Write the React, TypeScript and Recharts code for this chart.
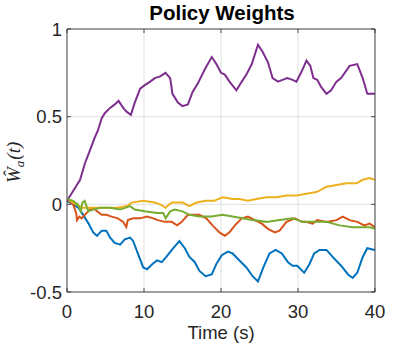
import React from 'react';
import { LineChart, Line, XAxis, YAxis, CartesianGrid } from 'recharts';

const xTicks = [0, 10, 20, 30, 40];
const yTicks = [-0.5, 0, 0.5, 1];

// [time (s), weight]
const weight1: [number, number][] = [
  [0, 0.02], [0.8, 0.0], [1.5, -0.02], [2.1, -0.06], [2.8, -0.11], [3.4, -0.16], [3.9, -0.18],
  [4.5, -0.15], [5.1, -0.15], [5.6, -0.19], [6.2, -0.22], [6.9, -0.23], [7.5, -0.2], [8.2, -0.19],
  [8.6, -0.21], [9.2, -0.28], [9.9, -0.36], [10.4, -0.37], [11.1, -0.34], [11.7, -0.32], [12.3, -0.33],
  [12.9, -0.3], [13.8, -0.25], [14.6, -0.21], [15.3, -0.25], [15.9, -0.3], [16.6, -0.33], [17.2, -0.38],
  [18.0, -0.41], [18.8, -0.4], [19.4, -0.34], [20.1, -0.29], [20.9, -0.27], [21.5, -0.28], [22.4, -0.32],
  [23.3, -0.36], [24.1, -0.41], [24.8, -0.44], [25.5, -0.36], [26.3, -0.28], [27.1, -0.26], [27.9, -0.28],
  [28.7, -0.33], [29.3, -0.35], [29.9, -0.35], [30.8, -0.39], [31.5, -0.34], [32.1, -0.28], [32.8, -0.26],
  [33.7, -0.26], [34.5, -0.3], [35.6, -0.35], [36.5, -0.4], [37.1, -0.42], [37.7, -0.39], [38.4, -0.3],
  [39.0, -0.25], [40, -0.26],
];

const weight2: [number, number][] = [
  [0, 0.03], [0.8, 0.0], [1.2, -0.05], [1.3, -0.09], [1.6, -0.07], [1.9, -0.08], [2.3, -0.06],
  [3.0, -0.03], [3.4, -0.02], [3.9, -0.04], [4.5, -0.06], [5.1, -0.06], [5.8, -0.07], [6.6, -0.08],
  [7.3, -0.1], [7.7, -0.13], [7.9, -0.09], [8.6, -0.08], [9.5, -0.08], [10.4, -0.07], [11.2, -0.08],
  [11.8, -0.09], [12.7, -0.1], [13.6, -0.1], [14.3, -0.12], [14.9, -0.1], [15.7, -0.06], [16.3, -0.06],
  [17.2, -0.06], [18.1, -0.08], [18.9, -0.12], [19.8, -0.16], [20.5, -0.18], [21.1, -0.16], [21.8, -0.12],
  [22.7, -0.08], [23.5, -0.07], [24.4, -0.09], [25.3, -0.11], [26.1, -0.14], [27.0, -0.16], [27.6, -0.15],
  [28.5, -0.1], [29.6, -0.08], [30.5, -0.1], [31.0, -0.1], [31.9, -0.11], [32.5, -0.09], [33.7, -0.1],
  [35.0, -0.09], [35.8, -0.07], [36.7, -0.09], [37.7, -0.1], [38.6, -0.12], [39.3, -0.11], [40, -0.13],
];

const weight3: [number, number][] = [
  [0, 0.03], [0.8, 0.01], [2.0, -0.02], [3.4, -0.02], [5.2, -0.02], [6.5, -0.02], [7.8, -0.01],
  [8.4, 0.01], [9.9, 0.02], [11.4, 0.01], [12.1, 0.0], [12.8, -0.02], [13.6, 0.01], [14.4, 0.01],
  [15.0, 0.01], [15.9, -0.01], [16.8, 0.01], [18.1, 0.02], [19.1, 0.02], [20.2, 0.04], [21.5, 0.03],
  [22.4, 0.03], [23.5, 0.02], [24.6, 0.03], [25.9, 0.04], [27.2, 0.04], [28.5, 0.05], [29.8, 0.05],
  [31.1, 0.06], [32.4, 0.07], [33.7, 0.1], [35.0, 0.11], [36.3, 0.12], [37.6, 0.12], [38.4, 0.14],
  [39.3, 0.15], [40, 0.14],
];

const weight4: [number, number][] = [
  [0, 0.02], [1.0, 0.09], [1.7, 0.14], [2.3, 0.23], [3.0, 0.31], [3.6, 0.38], [4.0, 0.42], [4.5, 0.49],
  [4.9, 0.52], [5.6, 0.55], [6.2, 0.57], [6.7, 0.59], [7.3, 0.55], [7.7, 0.53], [8.3, 0.51], [8.8, 0.58],
  [9.5, 0.66], [10.1, 0.68], [10.8, 0.7], [11.4, 0.72], [12.1, 0.73], [12.8, 0.75], [13.4, 0.72],
  [13.7, 0.63], [14.4, 0.58], [15.0, 0.56], [15.7, 0.57], [16.3, 0.64], [17.0, 0.69], [17.9, 0.77],
  [18.8, 0.84], [19.4, 0.8], [20.0, 0.75], [20.5, 0.74], [21.1, 0.7], [22.0, 0.65], [22.7, 0.7],
  [23.3, 0.74], [24.0, 0.8], [24.8, 0.91], [25.4, 0.87], [26.1, 0.81], [26.7, 0.72], [27.4, 0.7],
  [28.0, 0.71], [28.6, 0.72], [29.3, 0.71], [29.8, 0.7], [30.5, 0.76], [31.1, 0.82], [31.6, 0.79],
  [32.0, 0.72], [32.5, 0.71], [33.0, 0.67], [33.7, 0.63], [34.3, 0.65], [35.0, 0.7], [35.6, 0.72],
  [36.7, 0.79], [37.7, 0.8], [38.4, 0.72], [39.0, 0.63], [40, 0.63],
];

const weight5: [number, number][] = [
  [0, 0.03], [0.8, 0.02], [1.4, 0.0], [1.8, -0.04], [2.0, 0.01], [2.3, 0.02], [2.6, -0.02], [2.8, -0.04],
  [3.4, -0.03], [4.3, -0.02], [5.6, -0.02], [6.9, -0.03], [8.2, -0.01], [8.8, -0.03], [10.1, -0.04],
  [11.7, -0.05], [12.5, -0.05], [12.8, -0.08], [13.4, -0.04], [14.0, -0.03], [15.0, -0.04], [15.9, -0.06],
  [17.2, -0.07], [18.8, -0.07], [20.2, -0.06], [21.5, -0.07], [22.8, -0.08], [24.1, -0.09], [25.9, -0.1],
  [27.6, -0.09], [29.3, -0.08], [30.6, -0.1], [31.9, -0.1], [33.7, -0.1], [35.4, -0.12], [37.1, -0.13],
  [38.4, -0.13], [39.3, -0.13], [40, -0.14],
];

const toRows = (pts: [number, number][]) => pts.map(([t, v]) => ({ t, v }));

const series = [
  { name: 'w1', color: '#0072BD', pts: weight1 },
  { name: 'w2', color: '#D95319', pts: weight2 },
  { name: 'w3', color: '#EDB120', pts: weight3 },
  { name: 'w4', color: '#7E2F8E', pts: weight4 },
  { name: 'w5', color: '#77AC30', pts: weight5 },
];

const AXIS = '#262626';
const FONT = '"Liberation Sans", Arial, Helvetica, sans-serif';
const tickStyle = { fill: AXIS, fontSize: 18.5, fontFamily: FONT };
const none = () => <g />;

export default function App() {
  return (
    <div style={{ position: 'absolute', left: 0, top: 0, width: 415, height: 346, background: '#fff' }}>
      <LineChart width={415} height={346} margin={{ top: 28, right: 39, bottom: 24, left: 27 }}>
        <CartesianGrid stroke="#dfdfdf" strokeWidth={1} />
        <XAxis
          dataKey="t"
          type="number"
          domain={[0, 40]}
          ticks={xTicks}
          allowDataOverflow
          height={30}
          stroke={AXIS}
          strokeWidth={0.8}
          tickSize={-4}
          tickMargin={17}
          tick={tickStyle}
        />
        <XAxis
          xAxisId="top"
          orientation="top"
          dataKey="t"
          type="number"
          domain={[0, 40]}
          ticks={xTicks}
          allowDataOverflow
          height={1}
          stroke={AXIS}
          strokeWidth={0.8}
          tickSize={-4}
          tick={none}
        />
        <YAxis
          type="number"
          domain={[-0.5, 1]}
          ticks={yTicks}
          allowDataOverflow
          width={40}
          stroke={AXIS}
          strokeWidth={0.8}
          tickSize={-4}
          tickMargin={9}
          tick={tickStyle}
        />
        <YAxis
          yAxisId="right"
          orientation="right"
          type="number"
          domain={[-0.5, 1]}
          ticks={yTicks}
          allowDataOverflow
          width={1}
          stroke={AXIS}
          strokeWidth={0.8}
          tickSize={-4}
          tick={none}
        />
        {series.map((s) => (
          <Line
            key={s.name}
            data={toRows(s.pts)}
            dataKey="v"
            type="linear"
            stroke={s.color}
            strokeWidth={2}
            dot={false}
            activeDot={false}
            isAnimationActive={false}
          />
        ))}
      </LineChart>
      <svg
        width={415}
        height={346}
        style={{ position: 'absolute', left: 0, top: 0, pointerEvents: 'none' }}
      >
        <text x={222} y={20} textAnchor="middle" fontFamily={FONT} fontWeight="bold" fontSize={20.5} fill="#000">
          Policy Weights
        </text>
        <text x={221} y={339} textAnchor="middle" fontFamily={FONT} fontSize={18.5} fill={AXIS}>
          Time (s)
        </text>
        <text
          transform="translate(20,183) rotate(-90)"
          textAnchor="start"
          fontFamily='"Liberation Serif", "Times New Roman", serif'
          fontStyle="italic"
          fontSize={19}
          fill={AXIS}
        >
          Ŵ<tspan fontSize={13} dy={4}>a</tspan><tspan dy={-4} dx={1}>(t)</tspan>
        </text>
      </svg>
    </div>
  );
}
